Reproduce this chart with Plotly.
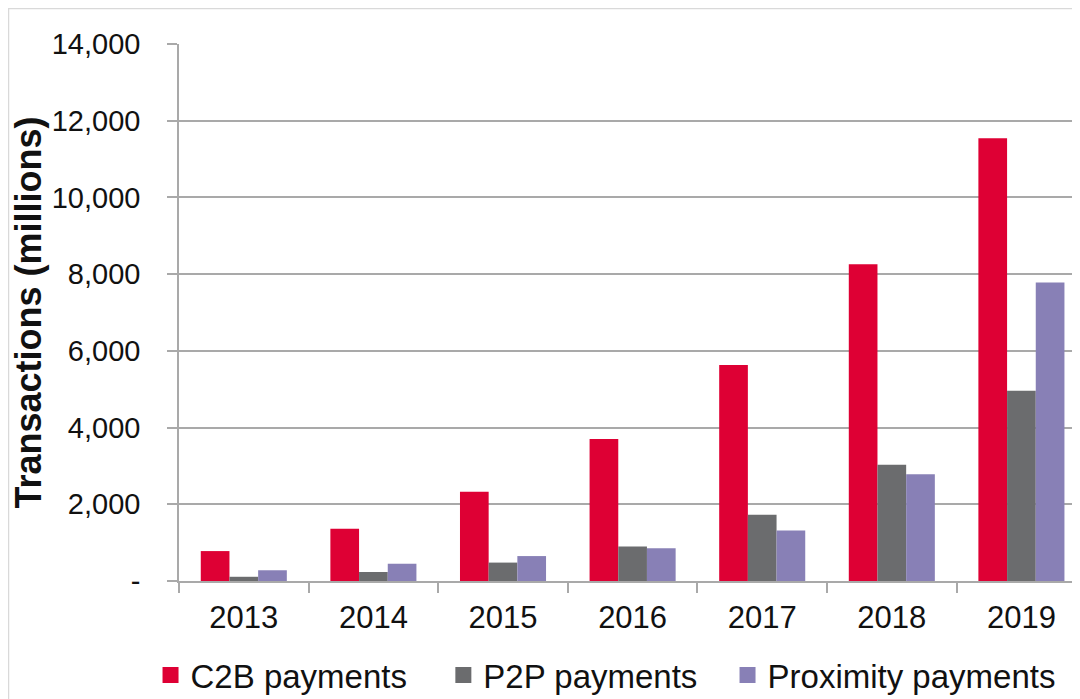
import plotly.graph_objects as go

# Dados (milhões de transações)
anos = ['2013', '2014', '2015', '2016', '2017', '2018', '2019']
c2b = [780, 1360, 2330, 3700, 5630, 8260, 11540]
p2p = [110, 235, 480, 900, 1730, 3030, 4960]
proximidade = [280, 450, 650, 855, 1315, 2780, 7780]

series = [
    ('C2B payments', c2b, '#DE0034'),
    ('P2P payments', p2p, '#6B6C6E'),
    ('Proximity payments', proximidade, '#8880B6'),
]

y_ticks = [0, 2000, 4000, 6000, 8000, 10000, 12000, 14000]
y_labels = ['-', '2,000', '4,000', '6,000', '8,000', '10,000', '12,000', '14,000']

COLORS = {
    'grid': '#A9A9A9',
    'frame': '#D9D9D9',
    'text': '#111111',
}
FONT = 'Liberation Sans, Arial, sans-serif'

# a página tem margem de 8px no body, então a figura é 8px menor
W, H = 1072, 691
L, T, B = 171, 36, 118
PW, PH = W - L, H - T - B

# uma legenda por série, para posicionar cada item como no original
LEGEND_X = [-0.0316, 0.2934, 0.6088]
LEGEND_Y = 24 / H  # centro da legenda, medido a partir da base da figura
legend_ids = ['legend', 'legend2', 'legend3']

fig = go.Figure()

for (nome, valores, cor), leg in zip(series, legend_ids):
    fig.add_trace(go.Bar(x=anos, y=valores, name=nome, showlegend=False,
                         marker=dict(color=cor, line=dict(width=0))))
    # entrada de legenda com quadrado maior
    fig.add_trace(go.Scatter(x=[None], y=[None], name=nome, mode='markers',
                             legend=leg,
                             marker=dict(symbol='square', size=16, color=cor)))

legend_style = dict(
    orientation='h',
    xanchor='left',
    yref='container',
    y=LEGEND_Y, yanchor='middle',
    font=dict(size=33, color=COLORS['text']),
    itemwidth=30,
    bgcolor='rgba(0,0,0,0)',
)

fig.update_layout(
    width=W,
    height=H,
    barmode='group',
    bargap=0.336,
    bargroupgap=0,
    plot_bgcolor='white',
    paper_bgcolor='white',
    font=dict(family=FONT, color=COLORS['text'], size=29),
    margin=dict(l=L, r=0, t=T, b=B),
    showlegend=True,
    legend=dict(x=LEGEND_X[0], **legend_style),
    legend2=dict(x=LEGEND_X[1], **legend_style),
    legend3=dict(x=LEGEND_X[2], **legend_style),
)

# moldura cinza clara em volta do gráfico
fig.add_shape(type='rect', xref='paper', yref='paper',
              x0=(-L + 0.5) / PW, x1=1.2, y0=-1.0, y1=1 + (T - 0.5) / PH,
              line=dict(color=COLORS['frame'], width=1.5), layer='below')

fig.update_xaxes(
    range=[-0.5, 6.452],
    showgrid=False,
    showline=True,
    linecolor=COLORS['grid'],
    linewidth=1.5,
    ticks='outside',
    tickson='boundaries',
    ticklen=10,
    tickcolor=COLORS['grid'],
    tickwidth=1.5,
    ticklabelstandoff=8,
    tickfont=dict(size=31),
)

fig.update_yaxes(
    range=[0, 14000],
    tickvals=y_ticks,
    ticktext=y_labels,
    showgrid=True,
    gridcolor=COLORS['grid'],
    gridwidth=1.5,
    zeroline=False,
    showline=True,
    linecolor=COLORS['grid'],
    linewidth=1.5,
    ticks='outside',
    ticklen=10,
    tickcolor=COLORS['grid'],
    tickwidth=1.5,
    ticklabelstandoff=21,
    tickfont=dict(size=29),
    title=dict(text='<b>Transactions (millions)</b>',
               font=dict(size=36), standoff=5),
)

fig.write_html('out.html')
